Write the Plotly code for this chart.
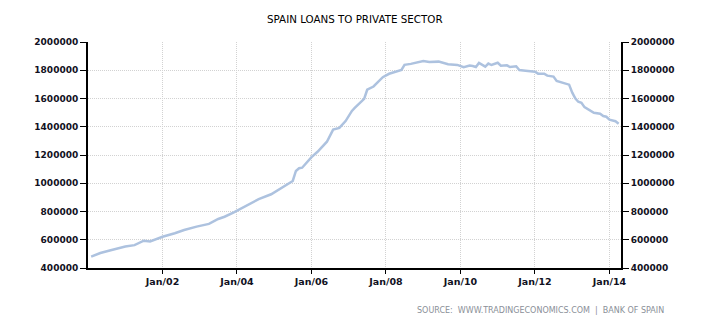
import plotly.graph_objects as go

# Month index (0 = Jan 2000) and loan values
month_index = [1, 4, 7, 12, 15, 18, 20, 24, 28, 31, 35, 39, 42, 44, 47,
               49, 52, 55, 59, 62, 65, 66, 67, 68, 69, 72, 74, 77, 79, 81,
               83, 85, 86, 89, 90, 92, 95, 97, 101, 102, 104, 108, 110, 113,
               116, 118, 119, 121, 123, 124, 125, 126, 128, 129, 130, 132,
               133, 135, 136, 138, 139, 141, 144, 145, 147, 148, 150, 151,
               153, 154, 155, 156, 157, 158, 159, 160, 161, 163, 165, 166,
               167, 168, 170, 171]
loans = [480000, 506000, 524000, 552000, 562000, 593000, 588000, 621000,
         646000, 669000, 693000, 712000, 747000, 763000, 794000,
         817000, 852000, 887000, 922000, 962000, 1004000, 1016000, 1087000,
         1106000, 1110000, 1185000, 1223000, 1294000, 1380000, 1392000,
         1440000, 1512000, 1533000, 1598000, 1662000, 1685000, 1751000,
         1775000, 1802000, 1838000, 1845000, 1866000, 1859000, 1861000,
         1842000, 1840000, 1838000, 1821000, 1833000, 1830000, 1823000,
         1852000, 1826000, 1847000, 1837000, 1853000, 1832000, 1835000,
         1823000, 1828000, 1802000, 1797000, 1790000, 1776000, 1776000,
         1762000, 1755000, 1724000, 1710000, 1708000, 1698000, 1641000,
         1600000, 1577000, 1570000, 1539000, 1527000, 1499000, 1492000,
         1476000, 1471000, 1450000, 1439000, 1422000]
dates = [f"{2000 + m // 12}-{m % 12 + 1:02d}-01" for m in month_index]

x_tickvals = ["2002-01-01", "2004-01-01", "2006-01-01", "2008-01-01",
              "2010-01-01", "2012-01-01", "2014-01-01"]
x_ticktext = ["Jan/02", "Jan/04", "Jan/06", "Jan/08", "Jan/10", "Jan/12", "Jan/14"]
y_ticks = [400000, 600000, 800000, 1000000, 1200000, 1400000, 1600000, 1800000, 2000000]

title_text = "SPAIN LOANS TO PRIVATE SECTOR"
source_text = "SOURCE:  WWW.TRADINGECONOMICS.COM  |  BANK OF SPAIN"

line_color = "#adc2df"
y_tick_font = dict(family="DejaVu Sans", size=9, color="#111122", weight="bold")
x_tick_font = dict(family="DejaVu Sans", size=9.5, color="#111122", weight="bold")

fig = go.Figure()
fig.add_trace(go.Scatter(x=dates, y=loans, mode="lines",
                         line=dict(color=line_color, width=2.5),
                         showlegend=False, hoverinfo="x+y"))
fig.add_trace(go.Scatter(x=dates, y=loans, mode="lines", yaxis="y2",
                         line=dict(color=line_color, width=2.5), opacity=0,
                         showlegend=False, hoverinfo="skip"))

grid = dict(showgrid=True, gridcolor="#d2d2d2", griddash="1px,1px", gridwidth=1)

fig.update_layout(
    width=710, height=325,
    margin=dict(l=88, r=89, t=42, b=57),
    paper_bgcolor="white", plot_bgcolor="white",
    xaxis=dict(range=["2000-01-01", "2014-04-24"], tickvals=x_tickvals,
               ticktext=x_ticktext, ticks="outside", ticklen=4, tickwidth=1,
               tickcolor="black", showline=True, linecolor="black", linewidth=2,
               tickfont=x_tick_font, zeroline=False, **grid),
    yaxis=dict(range=[400000, 2000000], tickvals=y_ticks,
               ticktext=[str(v) for v in y_ticks], ticks="outside", ticklen=6,
               tickwidth=1, tickcolor="black", showline=True, linecolor="black",
               linewidth=2, tickfont=y_tick_font, zeroline=False, **grid),
    yaxis2=dict(range=[400000, 2000000], tickvals=y_ticks,
                ticktext=[str(v) for v in y_ticks], overlaying="y", side="right",
                ticks="outside", ticklen=6, tickwidth=1, tickcolor="black",
                showline=True, linecolor="black", linewidth=2,
                tickfont=y_tick_font, showgrid=False, zeroline=False),
    annotations=[
        dict(text=title_text, xref="paper", yref="paper",
             x=(354.5 - 88) / 533, y=(267.5 - 18.7) / 225.5, xanchor="center",
             yanchor="middle", showarrow=False,
             font=dict(family="DejaVu Sans", size=10.3, color="#000000")),
        dict(text=source_text, xref="paper", yref="paper",
             x=(666 - 88) / 533, y=(267.5 - 309.5) / 225.5, xanchor="right",
             yanchor="middle", showarrow=False,
             font=dict(family="DejaVu Sans", size=8, color="#8a8f98")),
    ],
)

fig.write_html("out.html")
